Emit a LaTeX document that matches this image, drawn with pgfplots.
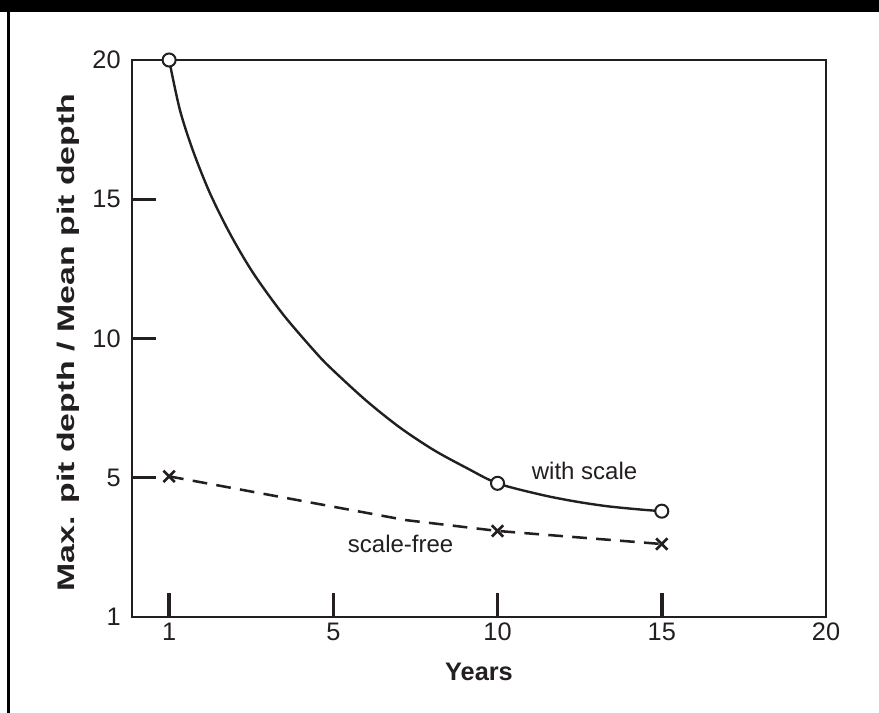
\documentclass[border=0pt]{standalone}
\usepackage{fontspec}
\setmainfont{Liberation Sans}
\usepackage{graphicx}
\usepackage{pgfplots}
\pgfplotsset{compat=1.18}
\definecolor{ink}{HTML}{231F20}
\begin{document}
\begin{tikzpicture}
\path[use as bounding box] (0pt,0pt) rectangle (659.25pt,-534.75pt);
\fill[black] (0pt,0pt) rectangle (659.25pt,-9pt);
\fill[black] (5.25pt,0pt) rectangle (7.5pt,-534.75pt);
\begin{axis}[
  at={(99pt,-462.75pt)}, anchor=south west,
  width=520.5pt, height=417.75pt, scale only axis,
  xmin=-1.13, xmax=20, ymin=0, ymax=20,
  xtick={0,5,10,15}, xticklabels={1,5,10,15},
  extra x ticks={20}, extra x tick labels={20},
  extra x tick style={tick style={draw=none}},
  ytick={5,10,15}, yticklabels={5,10,15},
  extra y ticks={0,20}, extra y tick labels={1,20},
  extra y tick style={tick style={draw=none}},
  tick pos=left, tick align=inside,
  major tick length=18pt,
  every tick/.style={ink, line width=2.6pt},
  axis line style={ink, line width=1.6pt},
  tick label style={font=\fontsize{19}{22}\selectfont, text=ink},
  xticklabel style={yshift=-1pt},
  yticklabel style={xshift=-5pt},
  xlabel={\textbf{Years}},
  xlabel style={at={(axis description cs:0.5,0)}, anchor=base, yshift=-47.25pt, font=\fontsize{19}{22}\selectfont, text=ink},
  ylabel={\scalebox{1.41}[1]{\textbf{Max. pit depth / Mean pit depth}}},
  ylabel style={at={([xshift=-47.6pt,yshift=-3pt]axis description cs:0,0.5)}, anchor=center, rotate=0, font=\fontsize{18}{21}\selectfont, text=ink},
  clip=false,
]
\addplot[ink, line width=1.8pt, smooth, mark=*, mark indices={1,14,19},
  mark size=4.9pt, mark options={fill=white, draw=ink, line width=1.5pt}]
coordinates {(0,20) (0.33,18.2) (0.74,16.7) (1.25,15.2) (1.86,13.75) (2.56,12.35)
 (3.48,10.85) (4.5,9.45) (5.0,8.85) (6.02,7.75) (7.03,6.8) (8.05,6.0)
 (9.06,5.35) (10,4.8) (11.29,4.40) (12.31,4.16) (13.32,3.98) (14.34,3.86) (15,3.8)};
\addplot[ink, line width=1.9pt, dash pattern=on 11pt off 7pt, mark=x, mark indices={1,3,4},
  mark size=6pt, mark options={solid, draw=ink, line width=2pt}]
coordinates {(0,5.05) (7.2,3.48) (10,3.09) (15,2.62)};
\node[anchor=base, font=\fontsize{18}{21}\selectfont, text=ink] at (axis cs:12.65,4.955) {with scale};
\node[anchor=base, font=\fontsize{18}{21}\selectfont, text=ink] at (axis cs:7.05,2.30) {scale-free};
\end{axis}
\end{tikzpicture}
\end{document}
